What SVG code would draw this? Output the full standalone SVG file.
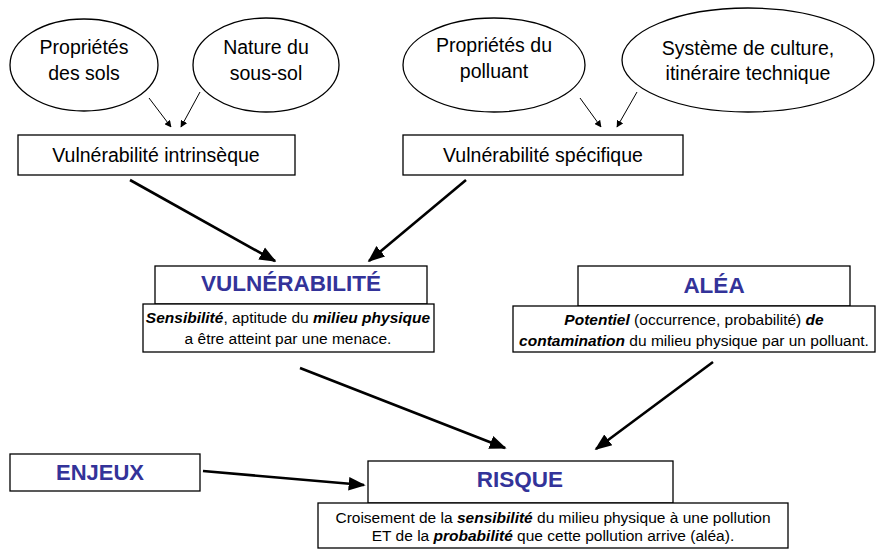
<svg xmlns="http://www.w3.org/2000/svg" width="877" height="550" viewBox="0 0 877 550">
<defs>
<style>
text{font-family:"Liberation Sans",Arial,sans-serif;fill:#000;text-anchor:middle}
.n{fill:#fff;stroke:#000;stroke-width:1.3}
.t16{font-size:19.5px}
.d{font-size:15.5px}
.h{font-size:22.5px;font-weight:bold;fill:#333399}
.thin{stroke:#000;stroke-width:1;fill:none}
.thick{stroke:#000;stroke-width:2.6;fill:none}
</style>
<marker id="sm" viewBox="0 0 10 10" refX="9" refY="5" markerWidth="7" markerHeight="7" orient="auto" markerUnits="userSpaceOnUse"><path d="M0,0 L10,5 L0,10 z" fill="#000"/></marker>
<marker id="bg" viewBox="0 0 10 10" refX="9" refY="5" markerWidth="17" markerHeight="17" orient="auto" markerUnits="userSpaceOnUse"><path d="M0,1 L10,5 L0,9 z" fill="#000"/></marker>
</defs>
<g id="connectors">
<line class="thin" x1="149" y1="98" x2="171" y2="127" marker-end="url(#sm)"/>
<line class="thin" x1="200" y1="92" x2="181" y2="127" marker-end="url(#sm)"/>
<line class="thin" x1="580" y1="98" x2="601" y2="127" marker-end="url(#sm)"/>
<line class="thin" x1="637" y1="92" x2="617" y2="127" marker-end="url(#sm)"/>
<line class="thick" x1="130" y1="180" x2="275" y2="261" marker-end="url(#bg)"/>
<line class="thick" x1="466" y1="180" x2="369" y2="261" marker-end="url(#bg)"/>
<line class="thick" x1="300" y1="368" x2="505" y2="448" marker-end="url(#bg)"/>
<line class="thick" x1="713" y1="362" x2="596" y2="449" marker-end="url(#bg)"/>
<line class="thick" x1="203" y1="471" x2="364" y2="485" marker-end="url(#bg)"/>
</g>
<g id="e1"><ellipse class="n" cx="84" cy="65" rx="74" ry="46"/><text class="t16" x="84" y="54">Propriétés</text><text class="t16" x="84" y="80">des sols</text></g>
<g id="e2"><ellipse class="n" cx="266" cy="65" rx="73" ry="47"/><text class="t16" x="266" y="54">Nature du</text><text class="t16" x="266" y="80">sous-sol</text></g>
<g id="e3"><ellipse class="n" cx="494" cy="65" rx="91" ry="47"/><text class="t16" x="494" y="52">Propriétés du</text><text class="t16" x="494" y="78">polluant</text></g>
<g id="e4"><ellipse class="n" cx="748" cy="60" rx="126" ry="52"/><text class="t16" x="748" y="55">Système de culture,</text><text class="t16" x="748" y="80">itinéraire technique</text></g>
<g id="vi"><rect class="n" x="18" y="135" width="277" height="40"/><text class="t16" x="156" y="162">Vulnérabilité intrinsèque</text></g>
<g id="vs"><rect class="n" x="403" y="135" width="280" height="40"/><text class="t16" x="543" y="162">Vulnérabilité spécifique</text></g>
<g id="vuln"><rect class="n" x="155" y="266" width="272" height="38"/><text class="h" x="291" y="291">VULNÉRABILITÉ</text>
<rect class="n" x="143" y="304" width="291" height="48"/><text class="d" x="288" y="323"><tspan font-weight="bold" font-style="italic">Sensibilité</tspan>, aptitude du <tspan font-weight="bold" font-style="italic">milieu physique</tspan></text><text class="d" x="288" y="344">a être atteint par une menace.</text></g>
<g id="alea"><rect class="n" x="578" y="266" width="272" height="40"/><text class="h" x="714" y="293">ALÉA</text>
<rect class="n" x="513" y="306" width="362" height="46"/><text class="d" x="694" y="325"><tspan font-weight="bold" font-style="italic">Potentiel</tspan> (occurrence, probabilité) <tspan font-weight="bold" font-style="italic">de</tspan></text><text class="d" x="694" y="346"><tspan font-weight="bold" font-style="italic">contamination</tspan> du milieu physique par un polluant.</text></g>
<g id="enjeux"><rect class="n" x="10" y="454" width="190" height="37"/><text class="h" x="100" y="480" style="font-size:22px">ENJEUX</text></g>
<g id="risque"><rect class="n" x="368" y="461" width="305" height="42"/><text class="h" x="520" y="487">RISQUE</text>
<rect class="n" x="318" y="503" width="470" height="45"/><text class="d" x="553" y="523">Croisement de la <tspan font-weight="bold" font-style="italic">sensibilité</tspan> du milieu physique à une pollution</text><text class="d" x="553" y="541">ET de la <tspan font-weight="bold" font-style="italic">probabilité</tspan> que cette pollution arrive (aléa).</text></g>
</svg>
